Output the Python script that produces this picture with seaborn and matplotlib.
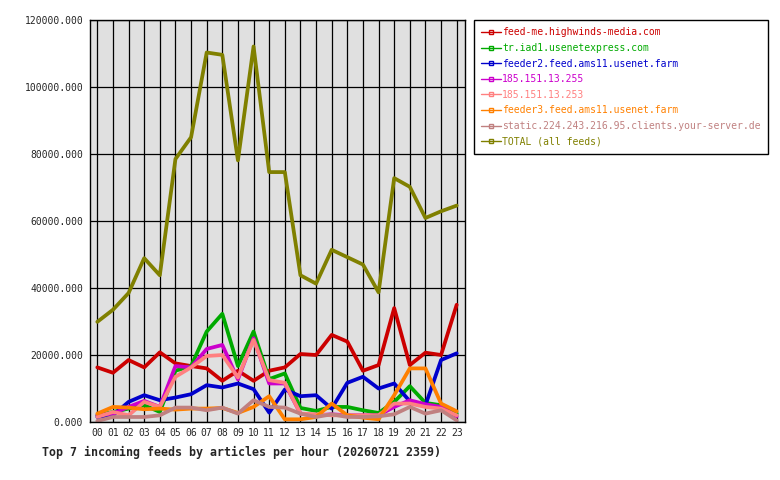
import matplotlib
matplotlib.use("Agg")
import matplotlib.pyplot as plt
from matplotlib.lines import Line2D
from matplotlib.ticker import FormatStrFormatter
import pandas as pd
import seaborn as sns

# hourly article counts per incoming feed
hours = ["%02d" % h for h in range(24)]

feed_me = [16300, 14700, 18500, 16300, 20800, 17500, 16700, 16000, 12300, 15300, 12300, 15300,
           16300, 20300, 20000, 26000, 24000, 15300, 17000, 34000, 17000, 20700, 20000, 35000]
tr_iad1 = [2000, 3000, 4000, 5000, 3000, 15300, 16700, 27000, 32300, 16700, 27000, 12800,
           14500, 4200, 3300, 4500, 4500, 3500, 2700, 6000, 10700, 5700, 5000, 2500]
feeder2 = [1500, 2000, 6000, 8000, 6500, 7300, 8300, 11000, 10300, 11500, 9800, 2800,
           9700, 7700, 8000, 4000, 11700, 13500, 10000, 11500, 6200, 5000, 18500, 20500]
ip_255 = [2000, 2500, 4500, 6300, 4500, 16700, 16300, 21800, 23000, 12700, 25000, 11500,
          11500, 2500, 2000, 2300, 2000, 2000, 2000, 4500, 6500, 5300, 4500, 1700]
ip_253 = [1500, 3000, 2000, 6000, 4500, 13500, 16300, 19700, 20000, 13300, 24500, 12500,
          11700, 2500, 2300, 2000, 2000, 2000, 2000, 5500, 5500, 4500, 4000, 2000]
feeder3 = [2500, 4500, 4300, 3800, 4000, 3700, 4000, 4000, 4200, 2700, 4500, 7700,
           800, 800, 1500, 5500, 2000, 1300, 800, 8000, 16000, 16000, 5500, 3200]
static_de = [300, 1500, 1500, 1500, 2000, 4300, 4300, 3500, 4300, 2500, 6500, 4500,
             4300, 2500, 1500, 2300, 1500, 1500, 1700, 2300, 4500, 2500, 3500, 500]
total = [29900, 33500, 38500, 48900, 43800, 78500, 85000, 110300, 109600, 78100, 112100, 74600,
         74600, 43800, 41300, 51400, 49200, 47000, 38700, 72800, 70200, 60900, 62900, 64600]

feed_names = ["feed-me.highwinds-media.com", "tr.iad1.usenetexpress.com",
              "feeder2.feed.ams11.usenet.farm", "185.151.13.255", "185.151.13.253",
              "feeder3.feed.ams11.usenet.farm", "static.224.243.216.95.clients.your-server.de",
              "TOTAL (all feeds)"]
feed_values = [feed_me, tr_iad1, feeder2, ip_255, ip_253, feeder3, static_de, total]
feed_colors = ["#cc0000", "#00aa00", "#0000cc", "#cc00cc", "#ff8080", "#ff8000", "#c08080", "#808000"]

rows = []
for name, vals in zip(feed_names, feed_values):
    for h, v in enumerate(vals):
        rows.append({"feed": name, "hour": h, "articles": v})
df = pd.DataFrame(rows)

sns.set_style("white")
plt.rcParams["font.family"] = ["DejaVu Sans Mono"]

fig = plt.figure(figsize=(7.8, 4.8), dpi=100)
ax = fig.add_axes([89.5 / 780, 58 / 480, 375 / 780, 402 / 480])
ax.set_facecolor("#e0e0e0")

sns.lineplot(data=df, x="hour", y="articles", hue="feed", hue_order=feed_names,
             palette=dict(zip(feed_names, feed_colors)), linewidth=2.7,
             legend=False, ax=ax)

ax.set_xlim(-0.5, 23.5)
ax.set_ylim(0, 120000)
ax.set_xticks(range(24))
ax.set_xticklabels(hours)
ax.set_yticks(range(0, 120001, 20000))
ax.yaxis.set_major_formatter(FormatStrFormatter("%.3f"))
ax.set_xlabel("")
ax.set_ylabel("")
ax.grid(True, color="black", linewidth=0.9)
ax.set_axisbelow(True)
for s in ax.spines.values():
    s.set_color("black")
    s.set_linewidth(1)
ax.tick_params(axis="both", direction="out", length=3, width=1, color="black",
               labelsize=7, pad=1.5)

handles = [Line2D([0], [0], color=c, linewidth=1, marker="s", markersize=3,
                  markerfacecolor="none", markeredgecolor=c, markeredgewidth=1)
           for c in feed_colors]
leg = fig.legend(handles, feed_names, loc="upper left",
                 bbox_to_anchor=(474 / 780, 1 - 20 / 480), fontsize=7.0,
                 frameon=True, fancybox=False, framealpha=1, edgecolor="black",
                 handlelength=2.0, handletextpad=0.15, labelspacing=0.58,
                 borderpad=0.75, borderaxespad=0)
leg.get_frame().set_linewidth(1)
for txt, c in zip(leg.get_texts(), feed_colors):
    txt.set_color(c)

fig.text(42 / 780, 1 - 452 / 480, "Top 7 incoming feeds by articles per hour (20260721 2359)",
         ha="left", va="center", fontsize=8.4, fontweight="bold")

fig.savefig("out.png", dpi=100, facecolor="white")
